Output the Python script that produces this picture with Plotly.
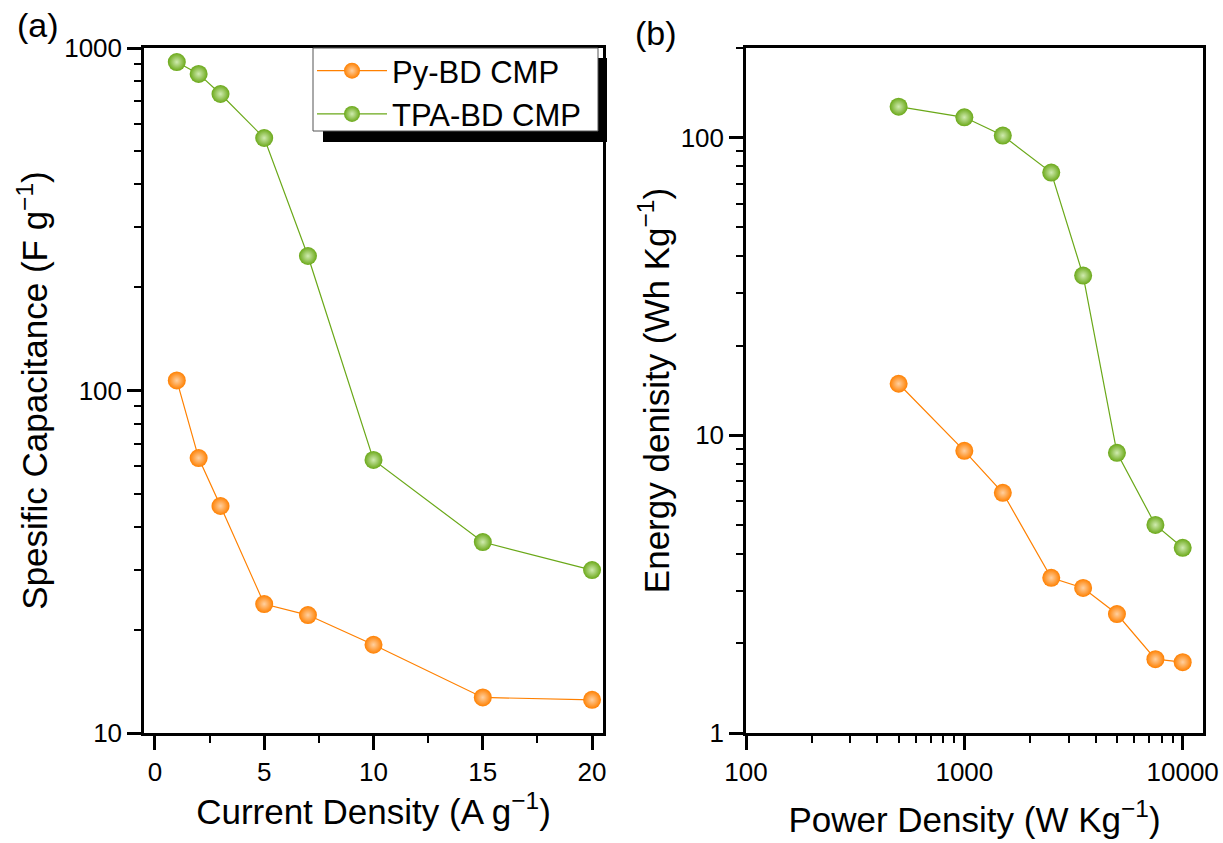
import plotly.graph_objects as go

# ---- data ----
current_density = [1, 2, 3, 5, 7, 10, 15, 20]
py_capacitance = [107, 63.5, 46, 23.8, 22.1, 18.1, 12.7, 12.5]
tpa_capacitance = [910, 840, 734, 546, 247, 62.7, 36.1, 29.9]

power_density = [500, 1000, 1500, 2500, 3500, 5000, 7500, 10000]
py_energy = [14.9, 8.87, 6.41, 3.32, 3.07, 2.51, 1.77, 1.73]
tpa_energy = [127, 117, 101.6, 76.3, 34.4, 8.73, 5.0, 4.19]

names = ["Py-BD CMP", "TPA-BD CMP"]
x_ticks_a = [0, 5, 10, 15, 20]
y_ticks_a = [10, 100, 1000]
x_ticks_b = [100, 1000, 10000]
y_ticks_b = [1, 10, 100]

ORANGE = "#FF8000"
GREEN = "#6AA818"
ORANGE_HI = "#FFD0A0"
GREEN_HI = "#D0EBB0"

W, H = 1223, 843
FONT = "Liberation Sans, Arial, sans-serif"
TICK_SIZE = 26
TITLE_SIZE = 35

fig = go.Figure()


def add_series(x, y, name, color, hi, xa, ya, show):
    fig.add_trace(go.Scatter(
        x=x, y=y, name=name, mode="lines+markers",
        xaxis=xa, yaxis=ya, showlegend=show,
        line=dict(color=color, width=1.2),
        marker=dict(size=18, color=color, line=dict(width=0),
                    gradient=dict(type="radial", color=hi)),
    ))


add_series(current_density, py_capacitance, names[0], ORANGE, ORANGE_HI, "x", "y", True)
add_series(current_density, tpa_capacitance, names[1], GREEN, GREEN_HI, "x", "y", True)
add_series(power_density, py_energy, names[0], ORANGE, ORANGE_HI, "x2", "y2", False)
add_series(power_density, tpa_energy, names[1], GREEN, GREEN_HI, "x2", "y2", False)


def px_x(p):
    return p / W


def px_y(p):
    return 1 - p / H


def log_minors(lo, hi):
    out = []
    d = lo
    while d < hi:
        out += [d * k for k in range(2, 10)]
        d *= 10
    return out


axis_common = dict(
    showline=True, linewidth=2.5, linecolor="black", mirror=True,
    ticks="outside", ticklen=14, tickwidth=2.5, tickcolor="black",
    showgrid=False, zeroline=False, automargin=False,
    tickfont=dict(family=FONT, size=TICK_SIZE, color="black"),
)
minor_common = dict(ticks="outside", ticklen=7, tickwidth=2, tickcolor="black", showgrid=False)
title_font = dict(family=FONT, size=TITLE_SIZE, color="black")

fig.update_layout(
    width=W, height=H,
    margin=dict(l=0, r=0, t=0, b=0, autoexpand=False),
    paper_bgcolor="white", plot_bgcolor="white",
    font=dict(family=FONT, color="black"),
    xaxis=dict(
        axis_common, domain=[px_x(144), px_x(603)], range=[-0.5, 20.5],
        tickvals=x_ticks_a, ticktext=[str(v) for v in x_ticks_a],
        minor=dict(minor_common, tickvals=[2.5, 7.5, 12.5, 17.5]),
        title=dict(text="Current Density (A g<sup>−1</sup>)", standoff=14, font=title_font),
        anchor="y",
    ),
    yaxis=dict(
        axis_common, type="log", domain=[px_y(733), px_y(48)], range=[1, 3],
        tickvals=y_ticks_a, ticktext=[str(v) for v in y_ticks_a],
        minor=dict(minor_common, tickvals=log_minors(10, 1000)),
        title=dict(text="Spesific Capacitance (F g<sup>−1</sup>)", standoff=6, font=title_font),
        anchor="x",
    ),
    xaxis2=dict(
        axis_common, type="log", domain=[px_x(746), px_x(1203)], range=[2, 4.093],
        tickvals=x_ticks_b, ticktext=[str(v) for v in x_ticks_b],
        minor=dict(minor_common, tickvals=log_minors(100, 10000)),
        title=dict(text="Power Density (W Kg<sup>−1</sup>)", standoff=22, font=title_font),
        anchor="y2",
    ),
    yaxis2=dict(
        axis_common, type="log", domain=[px_y(733), px_y(48)], range=[0, 2.301],
        tickvals=y_ticks_b, ticktext=[str(v) for v in y_ticks_b],
        minor=dict(minor_common, tickvals=log_minors(1, 100) + [200]),
        title=dict(text="Energy denisity (Wh Kg<sup>−1</sup>)", standoff=1, font=title_font),
        anchor="x2",
    ),
    legend=dict(
        x=px_x(312), y=px_y(44), xanchor="left", yanchor="top",
        bgcolor="rgba(0,0,0,0)", borderwidth=0,
        font=dict(family=FONT, size=31, color="black"),
        itemwidth=70,
    ),
    shapes=[
        dict(type="rect", xref="paper", yref="paper",
             x0=px_x(323), x1=px_x(607), y0=px_y(142), y1=px_y(58),
             fillcolor="black", line=dict(width=0), layer="above"),
        dict(type="rect", xref="paper", yref="paper",
             x0=px_x(313), x1=px_x(598), y0=px_y(131), y1=px_y(48),
             fillcolor="white", line=dict(color="#555555", width=1), layer="above"),
    ],
    annotations=[
        dict(text="(a)", x=px_x(38), y=px_y(25), xref="paper", yref="paper",
             xanchor="center", yanchor="middle",
             showarrow=False, font=dict(family=FONT, size=34, color="black")),
        dict(text="(b)", x=px_x(656), y=px_y(33), xref="paper", yref="paper",
             xanchor="center", yanchor="middle",
             showarrow=False, font=dict(family=FONT, size=34, color="black")),
    ],
)

fig.write_html(
    "out.html",
    config={"displayModeBar": False},
    post_script="document.body.style.margin='0px';document.body.style.overflow='hidden';",
)
